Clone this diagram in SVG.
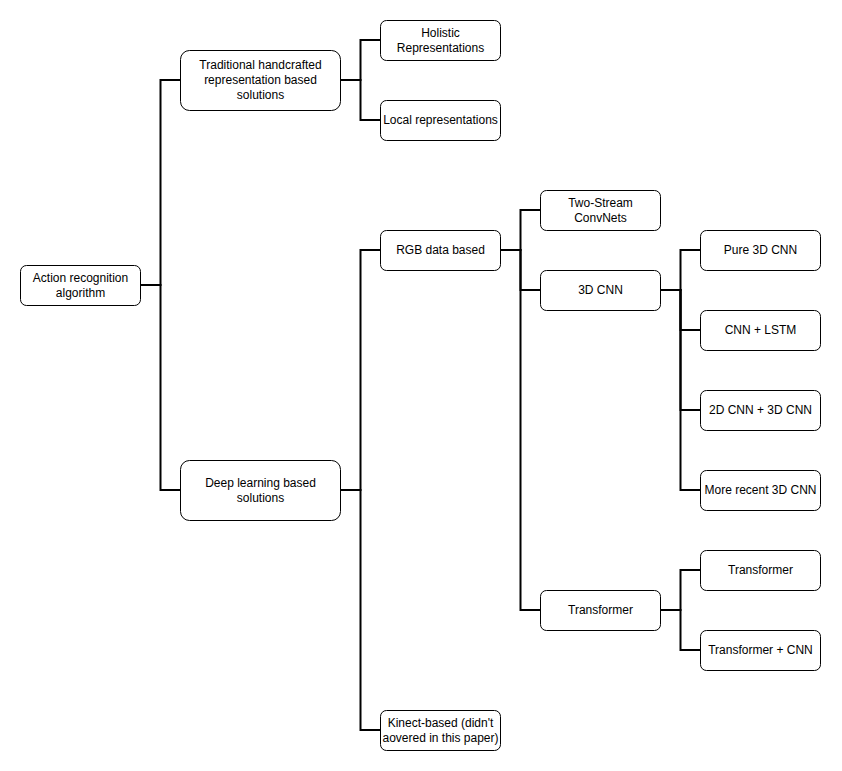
<svg xmlns="http://www.w3.org/2000/svg" width="842" height="771" viewBox="0 0 842 771">
<style>
.n rect{fill:#fff;stroke:#000;stroke-width:1}
.n text{font-family:"Liberation Sans",Arial,sans-serif;font-size:12px;fill:#000;text-anchor:middle}
.c path{fill:none;stroke:#000;stroke-width:2;stroke-linejoin:miter}
</style>
<rect width="842" height="771" fill="#fff"/>
<g id="connectors" class="c">
<path d="M140.5 285H160.5V80H180.5"/>
<path d="M140.5 285H160.5V490H180.5"/>
<path d="M340.5 80H360.5V40H380.5"/>
<path d="M340.5 80H360.5V120H380.5"/>
<path d="M340.5 490H360.5V250H380.5"/>
<path d="M340.5 490H360.5V730H380.5"/>
<path d="M500.5 250H520.5V210H540.5"/>
<path d="M500.5 250H520.5V290H540.5"/>
<path d="M500.5 250H520.5V610H540.5"/>
<path d="M660.5 290H680.5V250H700.5"/>
<path d="M660.5 290H680.5V330H700.5"/>
<path d="M660.5 290H680.5V410H700.5"/>
<path d="M660.5 290H680.5V490H700.5"/>
<path d="M660.5 610H680.5V570H700.5"/>
<path d="M660.5 610H680.5V650H700.5"/>
</g>
<g id="root" class="n"><rect x="20.5" y="265.5" width="120" height="40" rx="6"/><text x="80.5" y="281.5">Action recognition</text><text x="80.5" y="296.5">algorithm</text></g>
<g id="traditional" class="n"><rect x="180.5" y="50.5" width="160" height="60" rx="9"/><text x="260.5" y="69">Traditional handcrafted</text><text x="260.5" y="84">representation based</text><text x="260.5" y="99">solutions</text></g>
<g id="holistic" class="n"><rect x="380.5" y="20.5" width="120" height="40" rx="6"/><text x="440.5" y="36.5">Holistic</text><text x="440.5" y="51.5">Representations</text></g>
<g id="local" class="n"><rect x="380.5" y="100.5" width="120" height="40" rx="6"/><text x="440.5" y="124">Local representations</text></g>
<g id="deep" class="n"><rect x="180.5" y="460.5" width="160" height="60" rx="9"/><text x="260.5" y="486.5">Deep learning based</text><text x="260.5" y="501.5">solutions</text></g>
<g id="rgb" class="n"><rect x="380.5" y="230.5" width="120" height="40" rx="6"/><text x="440.5" y="254">RGB data based</text></g>
<g id="kinect" class="n"><rect x="380.5" y="710.5" width="120" height="40" rx="6"/><text x="440.5" y="726.5">Kinect-based (didn't</text><text x="440.5" y="741.5">aovered in this paper)</text></g>
<g id="twostream" class="n"><rect x="540.5" y="190.5" width="120" height="40" rx="6"/><text x="600.5" y="206.5">Two-Stream</text><text x="600.5" y="221.5">ConvNets</text></g>
<g id="cnn3d" class="n"><rect x="540.5" y="270.5" width="120" height="40" rx="6"/><text x="600.5" y="294">3D CNN</text></g>
<g id="transformer" class="n"><rect x="540.5" y="590.5" width="120" height="40" rx="6"/><text x="600.5" y="614">Transformer</text></g>
<g id="pure3d" class="n"><rect x="700.5" y="230.5" width="120" height="40" rx="6"/><text x="760.5" y="254">Pure 3D CNN</text></g>
<g id="cnnlstm" class="n"><rect x="700.5" y="310.5" width="120" height="40" rx="6"/><text x="760.5" y="334">CNN + LSTM</text></g>
<g id="cnn2d3d" class="n"><rect x="700.5" y="390.5" width="120" height="40" rx="6"/><text x="760.5" y="414">2D CNN + 3D CNN</text></g>
<g id="recent3d" class="n"><rect x="700.5" y="470.5" width="120" height="40" rx="6"/><text x="760.5" y="494">More recent 3D CNN</text></g>
<g id="transformerleaf" class="n"><rect x="700.5" y="550.5" width="120" height="40" rx="6"/><text x="760.5" y="574">Transformer</text></g>
<g id="transformercnn" class="n"><rect x="700.5" y="630.5" width="120" height="40" rx="6"/><text x="760.5" y="654">Transformer + CNN</text></g>
</svg>
